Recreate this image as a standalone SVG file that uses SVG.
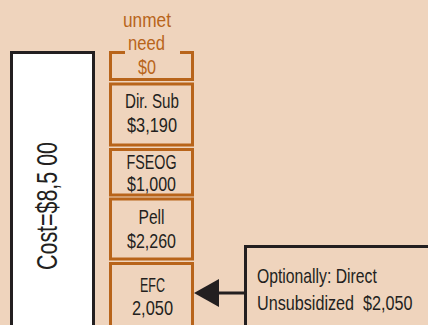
<svg xmlns="http://www.w3.org/2000/svg" width="428" height="325" viewBox="0 0 428 325">
<style>
.t{font-family:"Liberation Sans",Arial,sans-serif;font-size:20px;fill:#231F20;text-anchor:middle}
.s{text-anchor:start;font-size:21px}
.o{fill:#B8641A}
.ob{fill:none;stroke:#B8641A;stroke-width:3}
.k{stroke:#231F20;stroke-width:3}
</style>
<rect width="428" height="325" fill="#EFD4BD"/>
<g id="cost">
<rect x="11.5" y="52.5" width="82" height="275" fill="#FFFFFF" class="k"/>
<text class="t" transform="translate(57,206) rotate(-90)" style="font-size:30px" textLength="128" lengthAdjust="spacingAndGlyphs">Cost=$8,5 00</text>
</g>
<g id="unmet">
<path class="ob" d="M125,52.5 H110.5 V79.5 H192.5 V52.5 H180"/>
<text class="t o" x="147" y="27" textLength="48" lengthAdjust="spacingAndGlyphs">unmet</text>
<text class="t o" x="146.5" y="50" textLength="37" lengthAdjust="spacingAndGlyphs">need</text>
<text class="t o" x="147" y="74" textLength="18" lengthAdjust="spacingAndGlyphs">$0</text>
</g>
<g id="dirsub">
<rect class="ob" x="110.5" y="84" width="82" height="61"/>
<text class="t" x="152" y="108" textLength="54" lengthAdjust="spacingAndGlyphs">Dir. Sub</text>
<text class="t" x="152" y="132" textLength="50" lengthAdjust="spacingAndGlyphs">$3,190</text>
</g>
<g id="fseog">
<rect class="ob" x="110.5" y="149.5" width="82" height="45.5"/>
<text class="t" x="151.5" y="169" textLength="50" lengthAdjust="spacingAndGlyphs">FSEOG</text>
<text class="t" x="151.5" y="191" textLength="49" lengthAdjust="spacingAndGlyphs">$1,000</text>
</g>
<g id="pell">
<rect class="ob" x="110.5" y="199" width="82" height="60"/>
<text class="t" x="151.5" y="224" textLength="26" lengthAdjust="spacingAndGlyphs">Pell</text>
<text class="t" x="151.5" y="248" textLength="49" lengthAdjust="spacingAndGlyphs">$2,260</text>
</g>
<g id="efc">
<rect class="ob" x="110.5" y="263.5" width="82" height="70"/>
<text class="t" x="152.5" y="292" textLength="25" lengthAdjust="spacingAndGlyphs">EFC</text>
<text class="t" x="152.5" y="315" textLength="41" lengthAdjust="spacingAndGlyphs">2,050</text>
</g>
<g id="option">
<rect x="245.5" y="246.5" width="200" height="100" fill="none" class="k"/>
<text class="t s" transform="translate(257,283) scale(0.75,1)">Optionally: Direct</text>
<text class="t s" transform="translate(257,310) scale(0.77,1)">Unsubsidized&#160;&#160;$2,050</text>
</g>
<g id="connectors">
<line x1="219" y1="293" x2="245" y2="293" class="k"/>
<polygon points="194,293 219,279 219,307" fill="#231F20"/>
</g>
</svg>
